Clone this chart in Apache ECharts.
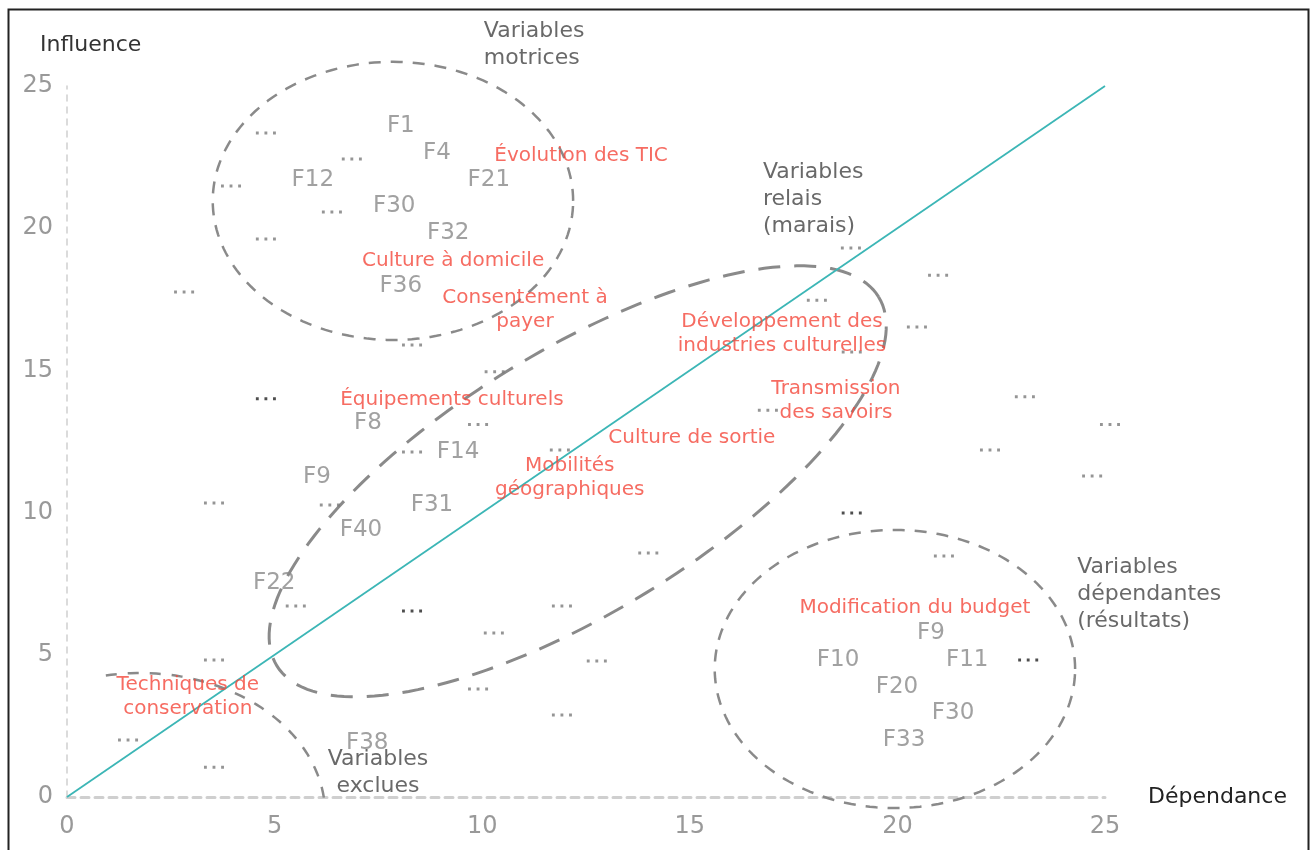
<!DOCTYPE html>
<html>
<head>
<meta charset="utf-8">
<script src="https://cdn.jsdelivr.net/npm/echarts@6/dist/echarts.min.js"></script>
<style>
  html, body { margin: 0; padding: 0; background: #fff; }
  #main { width: 1313px; height: 850px; }
</style>
</head>
<body>
<div id="main"></div>
<script>
// ticks
var xTicks = [0, 5, 10, 15, 20, 25];
var yTicks = [0, 5, 10, 15, 20, 25];

// variables F (gris) : [dependance, influence, nom]
var varLabels = [
    [8.04, 23.6, 'F1'], [8.91, 22.64, 'F4'], [5.92, 21.7, 'F12'], [10.16, 21.7, 'F21'],
    [7.88, 20.78, 'F30'], [9.18, 19.83, 'F32'], [8.04, 17.97, 'F36'],
    [7.25, 13.15, 'F8'], [9.42, 12.13, 'F14'], [6.02, 11.25, 'F9'], [8.79, 10.27, 'F31'],
    [7.08, 9.39, 'F40'], [4.99, 7.52, 'F22'], [7.23, 1.9, 'F38'],
    [20.81, 5.77, 'F9'], [18.57, 4.82, 'F10'], [21.68, 4.82, 'F11'], [19.99, 3.87, 'F20'],
    [21.34, 2.95, 'F30'], [20.16, 2.0, 'F33']
];

// themes (rouge)
var themeLabels = [
    [12.38, 22.54, 'Évolution des TIC'],
    [9.3, 18.85, 'Culture à domicile'],
    [11.03, 17.12, 'Consentement à\npayer'],
    [17.22, 16.28, 'Développement des\nindustries culturelles'],
    [18.52, 13.92, 'Transmission\ndes savoirs'],
    [9.27, 13.96, 'Équipements culturels'],
    [15.05, 12.62, 'Culture de sortie'],
    [12.11, 11.22, 'Mobilités\ngéographiques'],
    [20.42, 6.65, 'Modification du budget'],
    [2.91, 3.52, 'Techniques de\nconservation']
];

// "..." autres variables
var otherVars = [
    [4.79, 23.35], [6.86, 22.43], [3.95, 21.48], [6.38, 20.57], [4.79, 19.62], [2.82, 17.76],
    [8.31, 15.89], [10.3, 14.95], [9.9, 13.1], [8.31, 12.13], [11.87, 12.2], [3.54, 10.34],
    [6.33, 10.27], [5.51, 6.72], [11.92, 6.72], [14.0, 8.58], [10.28, 5.77], [12.76, 4.78],
    [3.54, 4.82], [9.9, 3.8], [11.92, 2.88], [1.47, 2.0], [3.54, 1.05],
    [18.88, 19.3], [20.98, 18.35], [18.06, 17.47], [20.47, 16.53], [18.9, 15.65], [16.88, 13.6],
    [23.07, 14.07], [25.12, 13.1], [22.23, 12.2], [24.69, 11.29], [21.12, 8.47]
];
var otherVarsDark = [[4.79, 14.0], [8.31, 6.54], [18.9, 9.99], [23.15, 4.82]];

// zones : centre, demi-axes (unites x / y), rotation (deg), arc (deg)
var zoneCenters = [[7.85, 20.96], [19.94, 4.5], [12.3, 11.1], [1.76, -0.63]];
var zoneRadii = [[4.34, 4.89], [4.34, 4.89], [8.5, 4.6], [4.46, 4.99]];
var zoneRotation = [0, 0, 31.5, 0];
var zoneArcs = [[0, 360], [0, 360], [0, 360], [7, 104]];

// noms des zones
var zoneNames = [
    [10.04, 26.44, 'Variables\nmotrices', 'left'],
    [16.76, 21.03, 'Variables\nrelais\n(marais)', 'left'],
    [24.33, 7.14, 'Variables\ndépendantes\n(résultats)', 'left'],
    [7.49, 0.84, 'Variables\nexclues', 'center']
];

var diagonal = [[0, 0], [25, 25]];

var font = 'DejaVu Sans';
var zoneStyles = [
    {lineWidth: 2.5, lineDash: [12, 10]},
    {lineWidth: 2.5, lineDash: [12, 10]},
    {lineWidth: 3, lineDash: [22, 14]},
    {lineWidth: 2.5, lineDash: [11, 11]}
];

var myChart = echarts.init(document.getElementById('main'));

option = {
    animation: false,
    backgroundColor: '#fff',
    grid: {left: 67, right: 208, top: 86, bottom: 53},
    graphic: [
        {type: 'rect', left: 6, top: 7, shape: {width: 1300, height: 860},
            style: {fill: 'none', stroke: '#222', lineWidth: 2}, silent: true},
        {type: 'text', left: 40, top: 34,
            style: {text: 'Influence', fill: '#333', font: '22px "DejaVu Sans"'}},
        {type: 'text', left: 1148, top: 786,
            style: {text: 'Dépendance', fill: '#222', font: '22px "DejaVu Sans"'}}
    ],
    xAxis: {
        type: 'value', min: 0, max: 25, interval: 5,
        axisLine: {lineStyle: {color: '#cfcfcf', width: 3, type: [8, 6]}},
        axisTick: {show: false},
        splitLine: {show: false},
        axisLabel: {color: '#999', fontSize: 24, fontFamily: font, margin: 18}
    },
    yAxis: {
        type: 'value', min: 0, max: 25, interval: 5,
        axisLine: {show: true, lineStyle: {color: '#cfcfcf', width: 1.5, type: [6, 6]}},
        axisTick: {show: false},
        splitLine: {show: false},
        axisLabel: {color: '#999', fontSize: 24, fontFamily: font, margin: 14}
    },
    series: [
        {
            type: 'custom',
            silent: true,
            data: zoneCenters,
            renderItem: function (params, api) {
                var i = params.dataIndex;
                var c = api.coord([api.value(0), api.value(1)]);
                var s = api.size([1, 1]);
                var rx = zoneRadii[i][0] * s[0], ry = zoneRadii[i][1] * s[1];
                var rot = zoneRotation[i] * Math.PI / 180;
                var pts = [];
                for (var a = zoneArcs[i][0]; a <= zoneArcs[i][1]; a += 2) {
                    var t = a * Math.PI / 180;
                    var px = rx * Math.cos(t), py = ry * Math.sin(t);
                    pts.push([c[0] + px * Math.cos(rot) - py * Math.sin(rot),
                              c[1] - (px * Math.sin(rot) + py * Math.cos(rot))]);
                }
                return {
                    type: 'polyline',
                    shape: {points: pts},
                    style: {fill: null, stroke: '#8a8a8a', lineWidth: zoneStyles[i].lineWidth,
                            lineDash: zoneStyles[i].lineDash}
                };
            },
            z: 1
        },
        {
            type: 'line',
            data: diagonal,
            symbol: 'none',
            silent: true,
            lineStyle: {color: '#3cb6b6', width: 1.8},
            z: 2
        },
        {
            type: 'scatter',
            data: otherVars,
            silent: true,
            clip: false,
            symbol: 'path://M0,0h3v3h-3z M9,0h3v3h-3z M18,0h3v3h-3z',
            symbolSize: [20, 3],
            itemStyle: {color: '#7a7a7a'},
            z: 3
        },
        {
            type: 'scatter',
            data: otherVarsDark,
            silent: true,
            clip: false,
            symbol: 'path://M0,0h3v3h-3z M9,0h3v3h-3z M18,0h3v3h-3z',
            symbolSize: [20, 3],
            itemStyle: {color: '#222'},
            z: 3
        },
        {
            type: 'scatter',
            data: varLabels,
            silent: true,
            symbolSize: 1,
            itemStyle: {color: 'rgba(0,0,0,0)'},
            label: {
                show: true, position: 'inside', align: 'center', verticalAlign: 'middle',
                formatter: function (p) { return p.data[2]; },
                color: '#8a8a8a', fontSize: 23, fontFamily: font
            },
            z: 4
        },
        {
            type: 'scatter',
            data: themeLabels,
            silent: true,
            symbolSize: 1,
            itemStyle: {color: 'rgba(0,0,0,0)'},
            label: {
                show: true, position: 'inside', align: 'center', verticalAlign: 'middle',
                formatter: function (p) { return p.data[2]; },
                color: '#f4473b', fontSize: 20, lineHeight: 24, fontFamily: font
            },
            z: 5
        },
        {
            type: 'scatter',
            data: zoneNames.map(function (d) {
                return {value: [d[0], d[1], d[2]], label: {align: d[3]}};
            }),
            silent: true,
            clip: false,
            symbolSize: 1,
            itemStyle: {color: 'rgba(0,0,0,0)'},
            label: {
                show: true, position: 'inside', verticalAlign: 'middle',
                formatter: function (p) { return p.data.value[2]; },
                color: '#444', fontSize: 22, lineHeight: 27, fontFamily: font
            },
            z: 5
        }
    ]
};

myChart.setOption(option);
</script>
</body>
</html>
